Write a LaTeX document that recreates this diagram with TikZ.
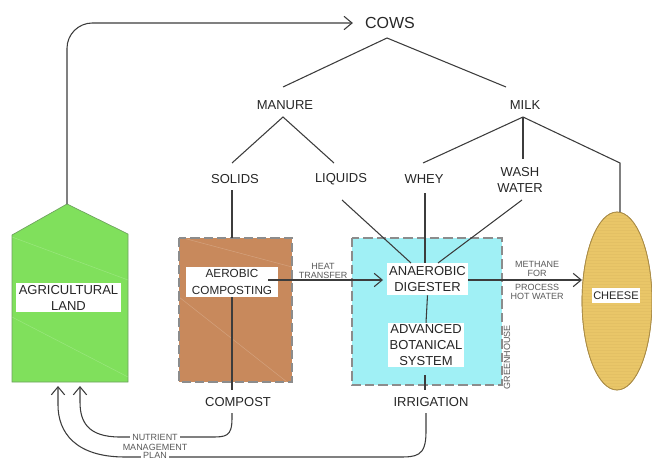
\documentclass[tikz,border=0pt]{standalone}
\usepackage{fontspec}
\setmainfont{Liberation Sans}
\usetikzlibrary{arrows.meta,shapes.geometric}
\definecolor{landgreen}{RGB}{128,224,92}
\definecolor{landedge}{RGB}{110,160,95}
\definecolor{compostbrown}{RGB}{200,137,92}
\definecolor{digestcyan}{RGB}{160,240,245}
\definecolor{cheesegold}{RGB}{233,198,104}
\definecolor{cheeseedge}{RGB}{170,140,70}
\definecolor{linegray}{RGB}{60,60,60}
\definecolor{dashgray}{RGB}{140,140,140}
\begin{document}
\begin{tikzpicture}[x=0.75pt,y=-0.75pt,
  conn/.style={draw=linegray, line width=0.8pt},
  arr/.style={conn, -{Straight Barb[length=6pt,width=10pt]}},
  lbl/.style={font=\fontsize{9.75}{12}\selectfont, text=black!85, inner sep=0pt, align=center},
  tag/.style={fill=white, inner sep=0pt, align=center, text=black!85,
              font=\fontsize{9.75}{12}\selectfont},
  note/.style={font=\fontsize{6.75}{8}\selectfont, text=black!65, align=center, inner sep=0pt},
  tank/.style={draw=dashgray, line width=1.1pt, dash pattern=on 7pt off 3pt},
  hatch/.style={draw=white, line width=0.4pt, opacity=0.2}]
\useasboundingbox (0,0) rectangle (652,460);

% ---- land, compost tank, greenhouse, cheese ----
\draw[fill=landgreen, draw=landedge, line width=0.5pt]
  (12,382) -- (12,235) -- (67,204) -- (128,234) -- (128,382) -- cycle;
\coordinate (landpeak) at (67,204);
\draw[hatch] (12,237) -- (128,280);
\draw[hatch] (12,317) -- (128,377);

\fill[compostbrown] (179,238) rectangle (292,382);
\draw[hatch] (183,238) -- (292,267);
\draw[hatch] (179,297) -- (287,382);
\draw[tank] (179,238) rectangle (292,382);

\fill[digestcyan] (352,238) rectangle (502,385);
\draw[tank] (352,238) rectangle (502,385);

\node (cheese) [ellipse, fill=cheesegold, draw=cheeseedge, line width=0.5pt,
  minimum width=52.5pt, minimum height=133.5pt, inner sep=0pt] at (617,301) {};
\begin{scope}
  \clip (617,301) ellipse [x radius=35, y radius=89];
  \foreach \yy in {212,215,...,392}
    \draw[draw=cheeseedge, opacity=0.09, line width=0.3pt] (580,\yy) -- (655,\yy);
\end{scope}
\draw[draw=cheeseedge, line width=0.5pt] (617,301) ellipse [x radius=35, y radius=89];

% ---- text labels of the tree ----
\node[lbl, font=\fontsize{12}{14}\selectfont] (cows) at (390,23) {COWS};
\node[lbl] (manure) at (285,105) {MANURE};
\node[lbl] (milk) at (525,105) {MILK};
\node[lbl] (solids) at (235,179) {SOLIDS};
\node[lbl] (liquids) at (341,179) {LIQUIDS};
\node[lbl] (whey) at (424,179) {WHEY};
\node[lbl] (wash) at (520,180) {WASH\\WATER};
\node[lbl] (compost) at (238,402) {COMPOST};
\node[lbl] (irrigation) at (431,402) {IRRIGATION};

% ---- white label plates ----
\node[tag, minimum width=78.75pt, minimum height=21.75pt] (land) at (68.5,297.5)
  {AGRICULTURAL\\LAND};
\node[tag, minimum width=69pt, minimum height=22.5pt,
  font=\fontsize{8.8}{12.75}\selectfont] (aerobic) at (232,282) {AEROBIC\\COMPOSTING};
\node[tag, minimum width=60.75pt, minimum height=24pt] (digester) at (427.5,279)
  {ANAEROBIC\\DIGESTER};
\node[tag, minimum width=57pt, minimum height=33pt] (botanical) at (426,345)
  {ADVANCED\\BOTANICAL\\SYSTEM};
\node[tag, minimum width=36pt, minimum height=11.25pt,
  font=\fontsize{8.3}{10}\selectfont] (cheeselbl) at (616,295.5) {CHEESE};

% ---- end points of the connectors ----
\coordinate (cowsfoot) at (387,38);
\coordinate (manuretop) at (283,87);
\coordinate (milktop) at (506,87);
\coordinate (manurefoot) at (283,117);
\coordinate (solidstop) at (232,163);
\coordinate (liquidstop) at (334,163);
\coordinate (milkfoot) at (523,117);
\coordinate (wheytop) at (423,163);
\coordinate (washtop) at (523,159);
\coordinate (cheesebend) at (620,163);
\coordinate (cheesetop) at (620,212);
\coordinate (solidsfoot) at (232,190);
\coordinate (tanktop) at (232,238);
\coordinate (liquidsfoot) at (342,200);
\coordinate (digin1) at (411,263);
\coordinate (wheyfoot) at (425,193);
\coordinate (digin2) at (425,263);
\coordinate (washfoot) at (522,200);
\coordinate (digin3) at (438,263);
\coordinate (heatstart) at (268,280);
\coordinate (heatend) at (387,280);
\coordinate (methstart) at (468,280);
\coordinate (methend) at (582,280);
\coordinate (compostout) at (232,390);
\coordinate (irrin) at (425,375);
\coordinate (irrout) at (425,390);
\coordinate (compostfoot) at (232,413);
\coordinate (irrfoot) at (426,413);
\coordinate (landin1) at (80,386);
\coordinate (landin2) at (58,386);

% ---- connectors ----
\draw[arr, rounded corners=19pt] (landpeak) -- (67,23) -- ([xshift=-9pt]cows.west);
\draw[conn] (manuretop) -- (cowsfoot) -- (milktop);
\draw[conn] (solidstop) -- (manurefoot) -- (liquidstop);
\draw[conn] (wheytop) -- (milkfoot) -- (cheesebend) -- (cheesetop);
\draw[conn] (milkfoot) -- (washtop);
\draw[conn] (solidsfoot) -- (tanktop);
\draw[conn] (liquidsfoot) -- (digin1);
\draw[conn] (wheyfoot) -- (digin2);
\draw[conn] (washfoot) -- (digin3);
\draw[conn] (aerobic.south) -- (compostout);
\draw[conn] (digester.south) -- (botanical.north);
\draw[conn] (irrin) -- (irrout);
\draw[arr] (heatstart) -- ([xshift=-3pt]heatend);
\draw[arr] (methstart) -- (methend);

% nutrient management plan loops back to the land
\draw[arr] (compostfoot) -- (232,418) .. controls (232,437) and (226,437) .. (210,437)
  -- (120,437) .. controls (88,437) and (80,422) .. (80,402) -- (landin1);
\draw[arr] (irrfoot) -- (426,432) .. controls (426,457) and (416,457) .. (398,457)
  -- (125,457) .. controls (75,457) and (58,432) .. (58,405) -- (landin2);

% ---- small annotations ----
\node[note] (heat) at (323,270.5) {HEAT\\[-1.2pt]TRANSFER};
\node[note] (methane) at (537,280.5) {METHANE\\[-0.8pt]FOR\\[2.2pt]PROCESS\\[-0.8pt]HOT WATER};
\node[note, rotate=90] (greenhouse) at (507,357) {GREENHOUSE};
\node[note, fill=white, inner xsep=1.5pt] (nutrient) at (155,437) {NUTRIENT};
\node[note] (management) at (155,447) {MANAGEMENT};
\node[note, fill=white, inner xsep=1.5pt, inner ysep=0.5pt] (plan) at (155,455.5) {PLAN};
\end{tikzpicture}
\end{document}
